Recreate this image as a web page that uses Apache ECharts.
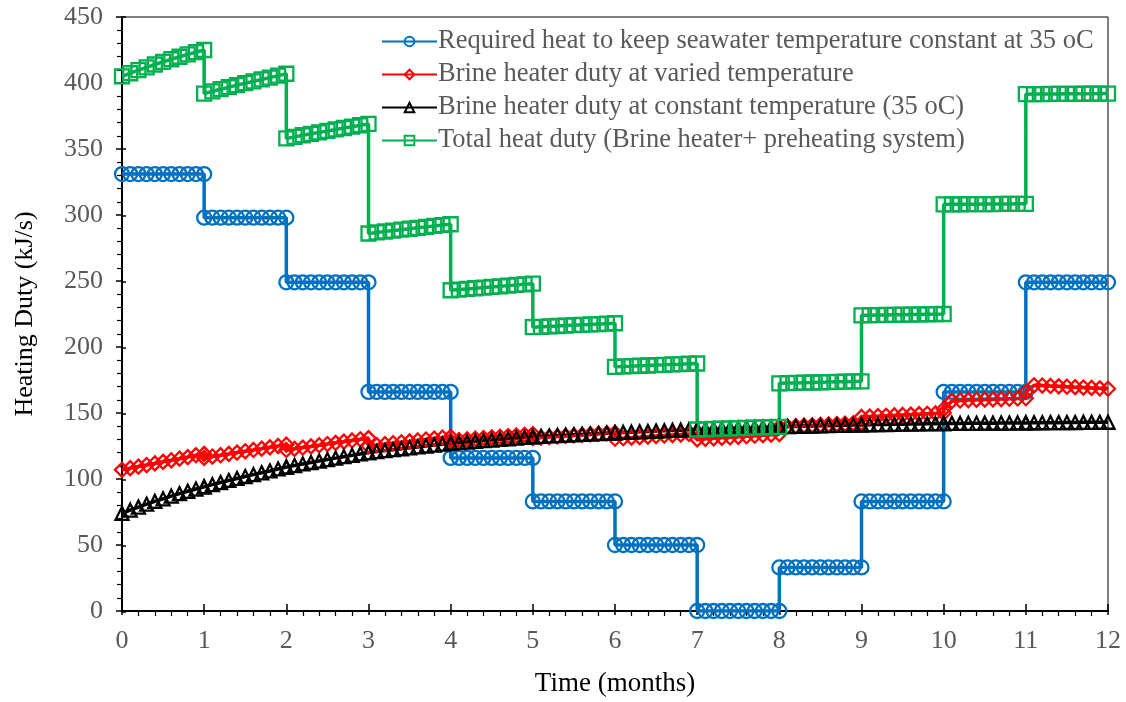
<!DOCTYPE html>
<html>
<head>
<meta charset="utf-8">
<title>Heating duty</title>
<script src="https://cdn.jsdelivr.net/npm/echarts@6/dist/echarts.min.js"></script>
<style>
  html, body { margin: 0; padding: 0; background: #fff; }
  #chart { width: 1126px; height: 702px; }
</style>
</head>
<body>
<div id="chart"></div>
<script>
// time steps inside each month (fraction of month)
const monthOffsets = [0, 0.1, 0.2, 0.3, 0.4, 0.5, 0.6, 0.7, 0.8, 0.9, 1.0]
const months = [0, 1, 2, 3, 4, 5, 6, 7, 8, 9, 10, 11]
const xTicks = ['0', '1', '2', '3', '4', '5', '6', '7', '8', '9', '10', '11', '12']

const seriesNames = [
  'Required heat to keep seawater temperature constant at 35 oC',
  'Brine heater duty at varied temperature',
  'Brine heater duty at constant temperature (35 oC)',
  'Total heat duty (Brine heater+ preheating system)'
]

// one row per month, 11 readings each
const requiredHeat = [
  [331, 331, 331, 331, 331, 331, 331, 331, 331, 331, 331],
  [298, 298, 298, 298, 298, 298, 298, 298, 298, 298, 298],
  [249, 249, 249, 249, 249, 249, 249, 249, 249, 249, 249],
  [166, 166, 166, 166, 166, 166, 166, 166, 166, 166, 166],
  [116, 116, 116, 116, 116, 116, 116, 116, 116, 116, 116],
  [83, 83, 83, 83, 83, 83, 83, 83, 83, 83, 83],
  [50, 50, 50, 50, 50, 50, 50, 50, 50, 50, 50],
  [0, 0, 0, 0, 0, 0, 0, 0, 0, 0, 0],
  [33, 33, 33, 33, 33, 33, 33, 33, 33, 33, 33],
  [83, 83, 83, 83, 83, 83, 83, 83, 83, 83, 83],
  [166, 166, 166, 166, 166, 166, 166, 166, 166, 166, 166],
  [249, 249, 249, 249, 249, 249, 249, 249, 249, 249, 249]
]

const brineVaried = [
  [107, 108.2, 109.4, 110.6, 111.8, 113, 114.2, 115.4, 116.6, 118, 119],
  [116, 117, 118, 119, 120, 121, 122, 123, 124, 125, 126],
  [122, 122.9, 123.8, 124.7, 125.6, 126.5, 127.4, 128.3, 129.2, 130.1, 131],
  [125, 125.7, 126.4, 127.1, 127.8, 128.5, 129.2, 129.9, 130.6, 131.3, 132],
  [129, 129.5, 130, 130.5, 131, 131.5, 132, 132.5, 133, 133.5, 134],
  [131, 131.4, 131.8, 132.2, 132.6, 133, 133.4, 133.8, 134.2, 134.6, 135],
  [130.5, 130.9, 131.3, 131.7, 132.1, 132.5, 132.9, 133.3, 133.7, 134.1, 134.5],
  [130, 130.4, 130.8, 131.2, 131.6, 132, 132.4, 132.8, 133.2, 133.6, 134],
  [139.5, 139.8, 140.1, 140.4, 140.7, 141, 141.3, 141.6, 141.9, 142.2, 142.5],
  [147, 147.3, 147.6, 147.9, 148.2, 148.5, 148.8, 149.1, 149.4, 149.7, 150],
  [153, 159, 159.5, 159.8, 160, 160.2, 160.4, 160.6, 160.8, 161, 161.2],
  [166, 171, 170.8, 170.5, 170.2, 169.9, 169.6, 169.3, 169, 168.7, 168.4]
]

const brineConstant = [
  [74, 76.4, 78.7, 80.9, 83, 85, 87, 88.9, 90.7, 92.4, 94],
  [94, 95.7, 97.3, 98.9, 100.4, 101.9, 103.3, 104.7, 106.1, 107.6, 109],
  [109, 110.2, 111.4, 112.5, 113.6, 114.7, 115.8, 116.9, 117.9, 119, 120],
  [120, 120.8, 121.5, 122.2, 122.9, 123.6, 124.3, 125, 125.7, 126.4, 127],
  [127, 127.5, 128, 128.5, 129, 129.5, 130, 130.5, 131, 131.5, 132],
  [132, 132.3, 132.6, 132.9, 133.2, 133.5, 133.8, 134.1, 134.4, 134.7, 135],
  [135, 135.3, 135.5, 135.8, 136, 136.3, 136.5, 136.8, 137, 137.3, 137.5],
  [137.5, 137.7, 137.9, 138.1, 138.3, 138.5, 138.7, 138.9, 139.1, 139.3, 139.5],
  [139.5, 139.7, 139.8, 140, 140.1, 140.3, 140.4, 140.6, 140.7, 140.9, 141],
  [141, 141.1, 141.2, 141.3, 141.4, 141.5, 141.6, 141.7, 141.8, 141.9, 142],
  [142, 142.1, 142.1, 142.2, 142.2, 142.3, 142.3, 142.4, 142.4, 142.5, 142.5],
  [142.5, 142.6, 142.6, 142.7, 142.7, 142.8, 142.8, 142.9, 142.9, 143, 143]
]

const totalDuty = [
  [405, 407.4, 409.7, 411.9, 414, 416, 418, 419.9, 421.7, 423.4, 425],
  [392, 393.7, 395.3, 396.9, 398.4, 399.9, 401.3, 402.7, 404.1, 405.6, 407],
  [358, 359.2, 360.4, 361.5, 362.6, 363.7, 364.8, 365.9, 366.9, 368, 369],
  [286, 286.8, 287.5, 288.2, 288.9, 289.6, 290.3, 291, 291.7, 292.4, 293],
  [243, 243.5, 244, 244.5, 245, 245.5, 246, 246.5, 247, 247.5, 248],
  [215, 215.3, 215.6, 215.9, 216.2, 216.5, 216.8, 217.1, 217.4, 217.7, 218],
  [185, 185.3, 185.5, 185.8, 186, 186.3, 186.5, 186.8, 187, 187.3, 187.5],
  [137.5, 137.7, 137.9, 138.1, 138.3, 138.5, 138.7, 138.9, 139.1, 139.3, 139.5],
  [172.5, 172.7, 172.8, 173, 173.1, 173.3, 173.4, 173.6, 173.7, 173.9, 174],
  [224, 224.1, 224.2, 224.3, 224.4, 224.5, 224.6, 224.7, 224.8, 224.9, 225],
  [308, 308.1, 308.1, 308.2, 308.2, 308.3, 308.3, 308.4, 308.4, 308.5, 308.5],
  [391.5, 391.6, 391.6, 391.7, 391.7, 391.8, 391.8, 391.9, 391.9, 392, 392]
]

// turn month rows into [time, value] pairs
const toPoints = (rows) => {
  const pts = []
  months.forEach((m, i) => {
    monthOffsets.forEach((off, j) => {
      pts.push([m + off, rows[i][j]])
    })
  })
  return pts
}

const fontFamily = '"Liberation Serif", "Times New Roman", serif'
const tickColor = '#595959'

const makeSeries = (name, rows, color, symbol, size) => ({
  name: name,
  type: 'line',
  data: toPoints(rows),
  symbol: symbol,
  symbolSize: size,
  showSymbol: true,
  lineStyle: { color: color, width: 3.5 },
  itemStyle: { color: 'rgba(255,255,255,0)', borderColor: color, borderWidth: 2.3 },
  emphasis: { disabled: true },
  xAxisIndex: 0,
  yAxisIndex: 0
})

const chart = echarts.init(document.getElementById('chart'), null, { renderer: 'canvas' })

const gridRect = { left: 122, right: 18, top: 17, bottom: 90 }

chart.setOption({
  animation: false,
  backgroundColor: '#fff',
  grid: [
    Object.assign({ show: true, borderColor: '#000', borderWidth: 1, backgroundColor: 'transparent' }, gridRect),
    Object.assign({ show: false }, gridRect)
  ],
  legend: {
    orient: 'vertical',
    left: 376,
    top: 23,
    itemWidth: 55,
    itemHeight: 12,
    itemGap: 6,
    data: seriesNames,
    textStyle: { fontFamily: fontFamily, fontSize: 26.5, color: tickColor, padding: [0, 0, 0, -4] }
  },
  xAxis: [
    {
      type: 'value',
      gridIndex: 0,
      min: 0,
      max: 12,
      interval: 1,
      name: 'Time (months)',
      nameLocation: 'middle',
      nameGap: 59,
      nameTextStyle: { fontFamily: fontFamily, fontSize: 27, color: '#000' },
      axisLine: { onZero: false, lineStyle: { color: '#000', width: 2 } },
      axisTick: { show: true, length: 4, lineStyle: { color: '#000', width: 1.5 } },
      minorTick: { show: true, splitNumber: 5, length: 5, lineStyle: { color: '#000', width: 1.2 } },
      axisLabel: {
        fontFamily: fontFamily, fontSize: 26, color: tickColor, margin: 17,
        formatter: (v) => xTicks[Math.round(v)]
      },
      splitLine: { show: false }
    },
    {
      type: 'value',
      gridIndex: 1,
      min: 0,
      max: 12,
      interval: 1,
      axisLine: { show: false },
      axisTick: { show: true, inside: true, length: 8, lineStyle: { color: '#000', width: 1.5 } },
      axisLabel: { show: false },
      splitLine: { show: false }
    }
  ],
  yAxis: [
    {
      type: 'value',
      gridIndex: 0,
      min: 0,
      max: 450,
      interval: 50,
      name: 'Heating Duty (kJ/s)',
      nameLocation: 'middle',
      nameGap: 84,
      nameRotate: 90,
      nameTextStyle: { fontFamily: fontFamily, fontSize: 26, color: '#000' },
      axisLine: { onZero: false, lineStyle: { color: '#000', width: 2 } },
      axisTick: { show: true, length: 6, lineStyle: { color: '#000', width: 1.5 } },
      minorTick: { show: true, splitNumber: 5, length: 5, lineStyle: { color: '#000', width: 1.2 } },
      axisLabel: { fontFamily: fontFamily, fontSize: 26, color: tickColor, margin: 19 },
      splitLine: { show: false }
    },
    {
      type: 'value',
      gridIndex: 1,
      min: 0,
      max: 450,
      interval: 50,
      axisLine: { show: false },
      axisTick: { show: true, inside: true, length: 4, lineStyle: { color: '#000', width: 1.5 } },
      axisLabel: { show: false },
      splitLine: { show: false }
    }
  ],
  series: [
    makeSeries(seriesNames[0], requiredHeat, '#0070C0', 'circle', 14),
    makeSeries(seriesNames[1], brineVaried, '#FF0000', 'diamond', 14),
    makeSeries(seriesNames[2], brineConstant, '#000000', 'triangle', 13),
    makeSeries(seriesNames[3], totalDuty, '#00B050', 'rect', 14)
  ]
})
</script>
</body>
</html>
